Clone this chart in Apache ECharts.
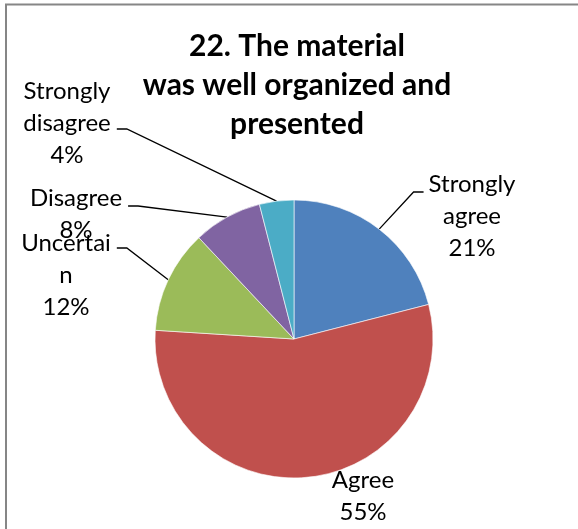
<!DOCTYPE html>
<html>
<head>
<meta charset="utf-8">
<script src="https://cdn.jsdelivr.net/npm/echarts@6/dist/echarts.min.js"></script>
<style>
  html, body { margin: 0; padding: 0; background: #fff; }
  #chart { width: 578px; height: 529px; }
</style>
</head>
<body>
<div id="chart"></div>
<script>
// ---- data ----
const categories = ['Strongly agree', 'Agree', 'Uncertain', 'Disagree', 'Strongly disagree'];
const values = [21, 55, 12, 8, 4];
const labelNames = ['Strongly\nagree', 'Agree', 'Uncertai\nn', 'Disagree', 'Strongly\ndisagree'];
const colors = ['#4F81BD', '#C0504D', '#9BBB59', '#8064A2', '#4BACC6'];
const titleText = '22. The material\nwas well organized and\npresented';

// ---- label placement (layout only) ----
// x = label centre, y = label top, lineY = leader end height, side = which side the leader attaches
const labelBoxes = [
  { x: 472, y: 168, lineY: 192, side: 'left' },
  { x: 363, y: 464, lineY: null, side: null },
  { x: 66,  y: 227, lineY: 248, side: 'right' },
  { x: 76,  y: 182, lineY: 206, side: 'right' },
  { x: 67,  y: 75,  lineY: 129, side: 'right' }
];

const chart = echarts.init(document.getElementById('chart'), null, { renderer: 'canvas' });

const seriesData = categories.map((c, i) => ({
  name: c,
  value: values[i],
  itemStyle: { color: colors[i] },
  labelLine: { show: labelBoxes[i].side !== null }
}));

chart.setOption({
  backgroundColor: '#ffffff',
  animation: false,
  title: {
    text: titleText,
    left: 297,
    textAlign: 'center',
    top: 27,
    padding: 0,
    textStyle: {
      fontFamily: 'Lato',
      fontWeight: 'bold',
      fontSize: 30,
      lineHeight: 39,
      color: '#000'
    }
  },
  graphic: [{
    type: 'rect',
    shape: { x: 6, y: 4.5, width: 800, height: 800 },
    style: { fill: 'none', stroke: '#868686', lineWidth: 2 },
    silent: true
  }],
  series: [{
    type: 'pie',
    center: [294, 339],
    radius: 139,
    startAngle: 90,
    clockwise: true,
    avoidLabelOverlap: false,
    itemStyle: { borderColor: '#ffffff', borderWidth: 0.6 },
    label: {
      show: true,
      position: 'outside',
      formatter: p => labelNames[p.dataIndex] + '\n' + p.value + '%',
      fontFamily: 'Lato',
      fontSize: 24,
      lineHeight: 32,
      color: '#000',
      align: 'center'
    },
    labelLine: {
      show: true,
      length: 10,
      length2: 10,
      lineStyle: { color: '#000', width: 1.3 }
    },
    labelLayout: function (params) {
      const b = labelBoxes[params.dataIndex];
      const out = { x: b.x, y: b.y, align: 'center', verticalAlign: 'top' };
      const pts = params.labelLinePoints;
      if (b.side && pts && pts.length) {
        const half = params.labelRect.width / 2;
        const p0 = pts[0];
        let end, elbow;
        if (b.side === 'right') {
          end = [b.x + half + 6, b.lineY];
          elbow = [end[0] + 10, b.lineY];
        } else {
          end = [b.x - half - 5, b.lineY];
          elbow = [end[0] - 10, b.lineY];
        }
        out.labelLinePoints = [p0, elbow, end];
      }
      return out;
    },
    data: seriesData
  }]
});
</script>
</body>
</html>
